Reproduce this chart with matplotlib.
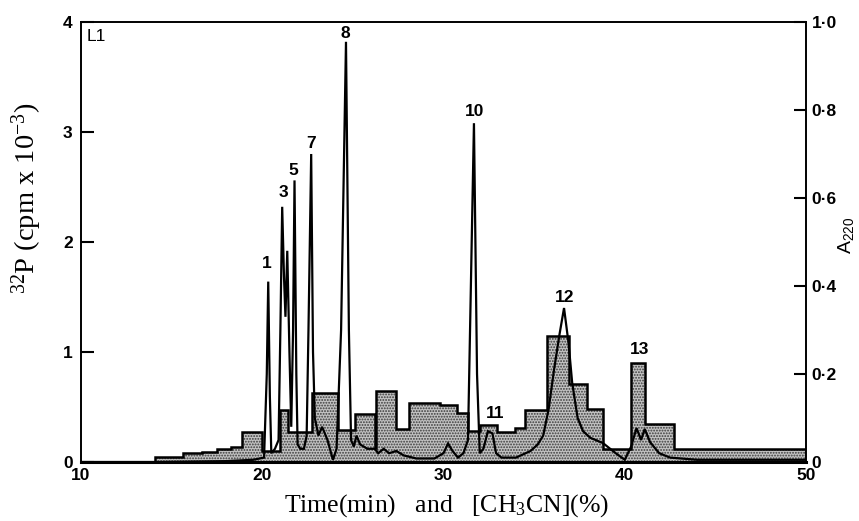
import matplotlib
matplotlib.use("Agg")
import matplotlib.pyplot as plt
import numpy as np

# 32P histogram (cpm x 10^-3), left axis
hist_edges = [14.1, 15.6, 16.7, 17.5, 18.3, 18.9, 20.0, 21.0, 21.4, 22.75, 24.2, 25.1,
              26.2, 26.3, 27.4, 28.1, 29.8, 30.75, 31.35, 32.0, 32.95, 33.95, 34.5,
              35.7, 36.9, 37.9, 38.8, 40.35, 41.1, 42.7, 50.0]
hist_values = [0.045, 0.08, 0.09, 0.12, 0.14, 0.27, 0.10, 0.47, 0.27, 0.63, 0.29, 0.44,
               0.13, 0.65, 0.30, 0.54, 0.52, 0.45, 0.28, 0.34, 0.27, 0.31, 0.47,
               1.15, 0.71, 0.48, 0.12, 0.90, 0.35, 0.12]

# A220 trace, right axis
a220_time = [10, 14, 18, 19.5, 20.1, 20.25, 20.33, 20.42, 20.5, 20.7, 20.9, 21.0, 21.1,
             21.2, 21.28, 21.38, 21.5, 21.6, 21.7, 21.78, 21.88, 21.95, 22.1, 22.3, 22.45,
             22.55, 22.7, 22.8, 22.9, 23.1, 23.3, 23.6, 23.9, 24.1, 24.35, 24.62, 24.78,
             24.9, 25.05, 25.2, 25.4, 25.8, 26.2, 26.4, 26.7, 27.0, 27.4, 27.8, 28.5,
             29.5, 30.0, 30.25, 30.5, 30.8, 31.1, 31.35, 31.68, 31.85, 32.0, 32.2, 32.45,
             32.7, 32.9, 33.2, 34.0, 34.8, 35.2, 35.5, 35.8, 36.1, 36.4, 36.65, 36.9,
             37.1, 37.4, 37.7, 38.1, 38.8, 39.5, 40.0, 40.35, 40.65, 40.9, 41.1, 41.4,
             41.9, 42.5, 44.0, 50.0]
a220_values = [0.0, 0.0, 0.002, 0.005, 0.01, 0.2, 0.41, 0.15, 0.02, 0.03, 0.05, 0.3, 0.58,
               0.42, 0.33, 0.48, 0.25, 0.08, 0.3, 0.64, 0.2, 0.04, 0.03, 0.03, 0.06,
               0.3, 0.70, 0.25, 0.1, 0.06, 0.08, 0.05, 0.005, 0.03, 0.3, 0.955, 0.3,
               0.05, 0.035, 0.06, 0.04, 0.03, 0.03, 0.02, 0.03, 0.02, 0.025, 0.015, 0.008,
               0.008, 0.02, 0.042, 0.025, 0.01, 0.02, 0.05, 0.77, 0.2, 0.02, 0.03, 0.07,
               0.065, 0.02, 0.01, 0.01, 0.025, 0.04, 0.06, 0.12, 0.21, 0.29, 0.35, 0.27,
               0.18, 0.1, 0.07, 0.055, 0.043, 0.02, 0.005, 0.035, 0.077, 0.05, 0.075, 0.045,
               0.02, 0.01, 0.005, 0.005]

peak_labels = ["1", "3", "5", "7", "8", "10", "11", "12", "13"]
peak_label_x = [20.26, 21.15, 21.7, 22.7, 24.6, 31.7, 32.85, 36.7, 40.8]
peak_label_y = [1.8, 2.45, 2.65, 2.9, 3.9, 3.19, 0.44, 1.5, 1.02]

left_ticks = [0, 1, 2, 3, 4]
right_ticks = [0, 0.2, 0.4, 0.6, 0.8, 1.0]
right_tick_labels = ["0", "0·2", "0·4", "0·6", "0·8", "1·0"]
x_ticks = [10, 20, 30, 40, 50]

sans = ["Liberation Sans", "DejaVu Sans"]
serif = ["Liberation Serif", "DejaVu Serif"]

plt.rcParams['hatch.color'] = '#3a3a3a'
plt.rcParams['hatch.linewidth'] = 0.9
plt.rcParams['mathtext.fontset'] = 'custom'
plt.rcParams['mathtext.rm'] = 'Liberation Sans'
plt.rcParams['mathtext.it'] = 'Liberation Sans:italic'
plt.rcParams['mathtext.bf'] = 'Liberation Sans:bold'

fig = plt.figure(figsize=(8.59, 5.21), dpi=100)
ax = fig.add_axes([81/859, 59/521, 725/859, 440/521])

# stippled histogram
xs = np.repeat(hist_edges, 2)[1:-1]
ys = np.repeat(hist_values, 2)
ax.fill_between(xs, 0, ys, facecolor='#c2c2c2', hatch='......', edgecolor='#3a3a3a', linewidth=0)
ax.plot(np.concatenate([[hist_edges[0]], xs, [hist_edges[-1]]]),
        np.concatenate([[0], ys, [0]]), color='black', lw=1.8, solid_joinstyle='miter')

ax.set_xlim(10, 50)
ax.set_ylim(0, 4)
ax.set_xticks(x_ticks)
ax.set_yticks(left_ticks)
ax.tick_params(axis='x', length=0, pad=4)
ax.tick_params(axis='y', direction='in', length=9, width=1.5, pad=6)
for lab in ax.get_xticklabels() + ax.get_yticklabels():
    lab.set_family(sans)
    lab.set_fontweight('bold')
    lab.set_fontsize(12.5)
for s in ['left', 'right', 'top']:
    ax.spines[s].set_linewidth(1.4)
ax.spines['bottom'].set_linewidth(2.2)

ax2 = ax.twinx()
ax2.plot(a220_time, a220_values, color='black', lw=1.6, solid_joinstyle='miter')
ax2.set_ylim(0, 1.0)
ax2.set_yticks(right_ticks)
ax2.set_yticklabels(right_tick_labels)
ax2.tick_params(axis='y', direction='in', length=9, width=1.5, pad=4)
for lab in ax2.get_yticklabels():
    lab.set_family(sans)
    lab.set_fontweight('bold')
    lab.set_fontsize(12.5)
for s in ['left', 'right', 'top', 'bottom']:
    ax2.spines[s].set_visible(False)

for t, x, y in zip(peak_labels, peak_label_x, peak_label_y):
    ax.text(x, y, t, ha='center', va='center', fontsize=12.5, fontweight='bold', family=sans)

ax.text(0.008, 0.985, "L1", transform=ax.transAxes, ha='left', va='top', fontsize=12.5, family=sans)

ax.set_xlabel(r"Time(min)   and   [CH$\mathregular{_3}$CN](%)", family=serif, fontsize=18.5)
ax.xaxis.set_label_coords(0.505, -0.068)
ax.set_ylabel(r"$\mathregular{^{32}}$P (cpm x 10$\mathregular{^{-3}}$)", family=serif, fontsize=20.5)
ax.yaxis.set_label_coords(-0.051, 0.60)

ax2.set_ylabel(r"A$_{220}$", family=sans, fontsize=14)
ax2.yaxis.label.set_va('center')
ax2.yaxis.set_label_coords(1.055, 0.516)

fig.savefig("out.png", dpi=100)
